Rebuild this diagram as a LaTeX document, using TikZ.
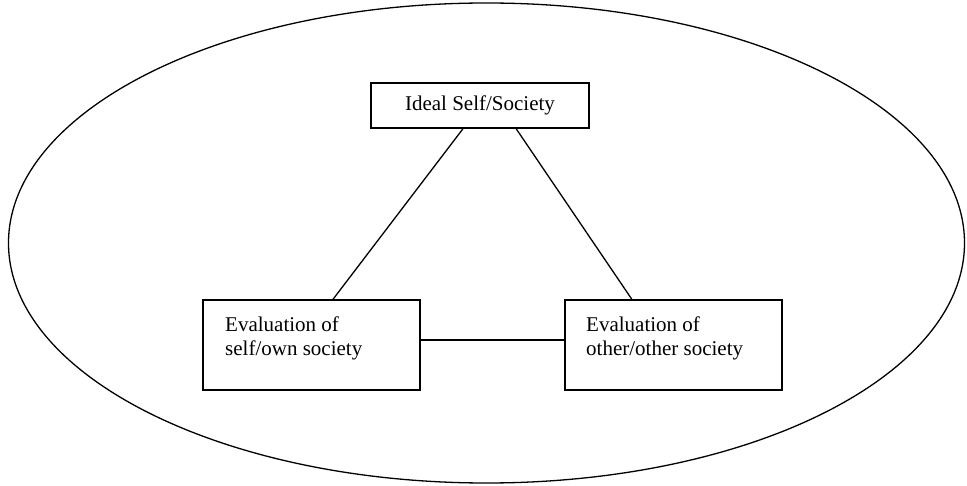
\documentclass[tikz,border=0pt]{standalone}
\usepackage{fontspec}
\setmainfont{Liberation Serif}
\usetikzlibrary{calc}
\begin{document}
\begin{tikzpicture}[x=1pt,y=-1pt,
  box/.style={draw,line width=1.8pt,inner sep=0pt},
  conn/.style={line width=1.3pt},
  lbl/.style={font=\fontsize{21}{24}\selectfont,inner sep=0pt}]
\useasboundingbox (0,0) rectangle (967,486);
\draw[line width=1.3pt] (486.5,243) ellipse [x radius=478, y radius=240];
\node[box,minimum width=218pt,minimum height=45pt] (top) at (480,105.5) {};
\node[lbl] (toptxt) at (top) {Ideal Self/Society};
\node[box,minimum width=217pt,minimum height=90pt] (L) at (311.5,345) {};
\node[lbl,anchor=base west] (L1) at (225,332) {Evaluation of};
\node[lbl,anchor=base west] (L2) at (225,355.5) {self/own society};
\node[box,minimum width=217pt,minimum height=90pt] (R) at (673.5,345) {};
\node[lbl,anchor=base west] (R1) at (586,332) {Evaluation of};
\node[lbl,anchor=base west] (R2) at (586,355.5) {other/other society};
\draw[conn] ($(top.south west)!0.422!(top.south east)$) -- ($(L.north west)!0.599!(L.north east)$);
\draw[conn] ($(top.south west)!0.665!(top.south east)$) -- ($(R.north west)!0.309!(R.north east)$);
\draw[conn] ($(L.north east)!0.444!(L.south east)$) -- ($(R.north west)!0.444!(R.south west)$);
\end{tikzpicture}
\end{document}
